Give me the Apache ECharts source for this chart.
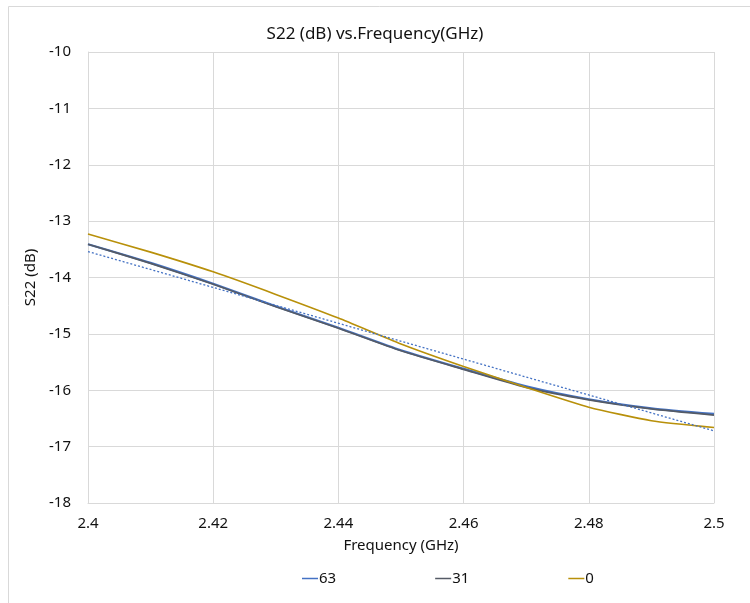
<!DOCTYPE html>
<html><head><meta charset="utf-8">
<script src="https://cdn.jsdelivr.net/npm/echarts@6/dist/echarts.min.js"></script>
<style>html,body{margin:0;padding:0;background:#fff}#c{width:750px;height:603px}</style>
</head><body><div id="c"></div>
<script>
var freq = [2.40, 2.41, 2.42, 2.43, 2.44, 2.45, 2.46, 2.47, 2.48, 2.49, 2.50];
var s63 = [-13.41, -13.74, -14.11, -14.51, -14.89, -15.29, -15.62, -15.93, -16.16, -16.32, -16.42];
var s31 = [-13.41, -13.75, -14.12, -14.52, -14.90, -15.30, -15.63, -15.95, -16.17, -16.33, -16.44];
var s0  = [-13.23, -13.55, -13.90, -14.30, -14.72, -15.18, -15.58, -15.95, -16.30, -16.54, -16.66];
var trendX = [2.40, 2.50];
var trendY = [-13.54, -16.72];
var yTicks = [-18, -17, -16, -15, -14, -13, -12, -11, -10];
var xTicks = ['2.4', '2.42', '2.44', '2.46', '2.48', '2.5'];

function pairs(xs, ys){ return xs.map(function(x,i){return [x, ys[i]];}); }
var font = 'Noto Sans';
var txt = '#111111';
var c63 = '#4472C4', c31 = '#555b66', c0 = '#B8900A';
var chart = echarts.init(document.getElementById('c'));
chart.setOption({
  animation: false,
  textStyle: {fontFamily: font},
  graphic: [{type:'rect', shape:{x:8.5, y:6.5, width:760, height:620}, style:{fill:'none', stroke:'#d9d9d9', lineWidth:1}, silent:true}],
  title: {text: 'S22 (dB) vs.Frequency(GHz)', left: 'center', top: 21,
    textStyle: {fontFamily: font, fontSize: 17, fontWeight: 'normal', color: txt}},
  legend: {left: 297, top: 566, itemGap: 99, itemWidth: 16, itemHeight: 1.5, icon: 'rect',
    textStyle: {fontFamily: font, fontSize: 15, color: txt, padding:[0,0,0,-4]},
    data: [{name:'63', itemStyle:{color:c63}}, {name:'31', itemStyle:{color:c31}}, {name:'0', itemStyle:{color:c0}}]},
  grid: {left: 88, right: 36, top: 52, bottom: 100},
  xAxis: {type: 'value', min: 2.4, max: 2.5, interval: 0.02,
    name: 'Frequency (GHz)', nameLocation: 'middle', nameGap: 35,
    nameTextStyle: {fontFamily: font, fontSize: 15, color: txt},
    axisLine: {show: true, lineStyle: {color: '#d9d9d9'}},
    axisTick: {show: false},
    axisLabel: {fontFamily: font, fontSize: 15, color: txt, margin: 13,
      formatter: function(v){ var s = v.toFixed(2).replace(/0+$/,'').replace(/\.$/,''); return xTicks.indexOf(s) >= 0 ? s : ''; }},
    splitLine: {show: true, lineStyle: {color: '#d9d9d9'}}},
  yAxis: {type: 'value', min: yTicks[0], max: yTicks[yTicks.length-1], interval: 1,
    name: 'S22 (dB)', nameLocation: 'middle', nameGap: 42, nameRotate: 90,
    nameTextStyle: {fontFamily: font, fontSize: 15, color: txt},
    axisLine: {show: true, lineStyle: {color: '#d9d9d9'}},
    axisTick: {show: false},
    axisLabel: {fontFamily: font, fontSize: 15, color: txt, margin: 17},
    splitLine: {show: true, lineStyle: {color: '#d9d9d9'}}},
  series: [
    {name: '63', type: 'line', data: pairs(freq, s63), showSymbol: false, smooth: 0.2,
      lineStyle: {color: c63, width: 2.2}, itemStyle: {color: c63}},
    {name: '31', type: 'line', data: pairs(freq, s31), showSymbol: false, smooth: 0.2,
      lineStyle: {color: c31, width: 1.7}, itemStyle: {color: c31}},
    {name: '0', type: 'line', data: pairs(freq, s0), showSymbol: false, smooth: 0.2,
      lineStyle: {color: c0, width: 1.6}, itemStyle: {color: c0}},
    {name: 'trend', type: 'line', data: pairs(trendX, trendY), showSymbol: false,
      lineStyle: {color: c63, width: 1.3, type: [2, 2]}, itemStyle: {color: c63}}
  ]
});
</script></body></html>
